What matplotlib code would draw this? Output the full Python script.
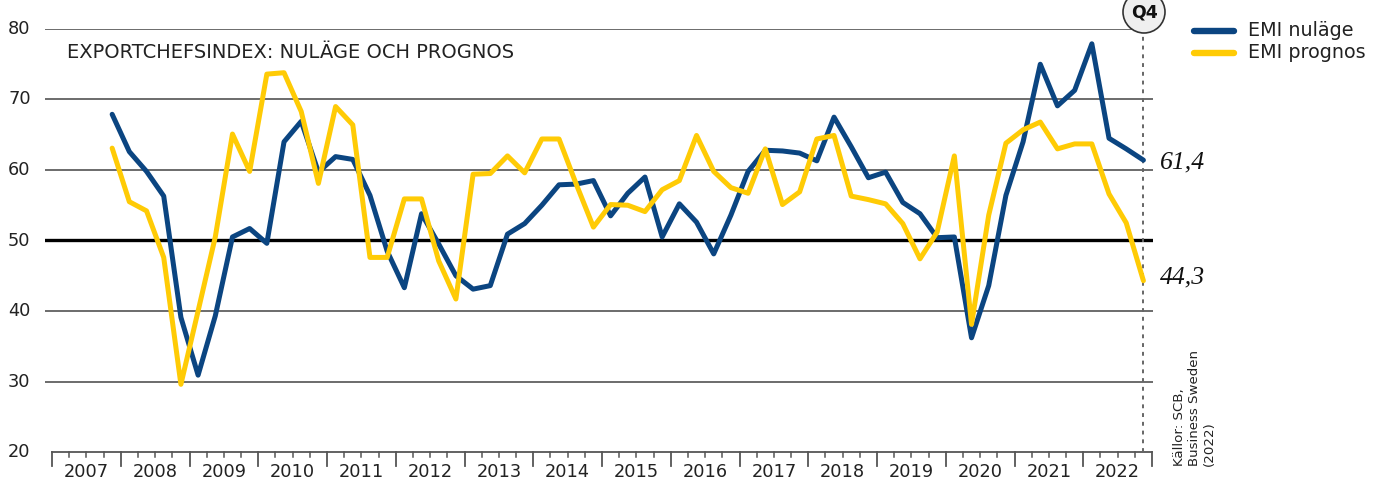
import matplotlib
matplotlib.use('Agg')
import matplotlib.pyplot as plt
import numpy as np
from matplotlib.lines import Line2D
from matplotlib.patches import Circle

# Exportchefsindex, kvartal 2007Q4 - 2022Q4
nulage = [
    67.9,
    62.6, 59.8, 56.3, 39.1,
    30.9, 39.3, 50.5, 51.7,
    49.6, 64.0, 66.9, 59.7,
    61.9, 61.5, 56.4, 48.5,
    43.3, 53.8, 49.5, 45.0,
    43.1, 43.6, 50.9, 52.4,
    55.0, 57.9, 58.0, 58.5,
    53.5, 56.7, 59.0, 50.5,
    55.2, 52.6, 48.1, 53.6,
    59.8, 62.8, 62.7, 62.4,
    61.3, 67.5, 63.3, 58.9,
    59.7, 55.4, 53.8, 50.4,
    50.5, 36.2, 43.6, 56.4,
    64.0, 75.0, 69.1, 71.3,
    77.9, 64.5, 63.0, 61.4,
]
prognos = [
    63.1,
    55.5, 54.2, 47.6, 29.6,
    40.0, 50.5, 65.1, 59.8,
    73.6, 73.8, 68.3, 58.1,
    69.0, 66.4, 47.6, 47.6,
    55.9, 55.9, 47.1, 41.7,
    59.4, 59.5, 62.0, 59.6,
    64.4, 64.4, 58.0, 51.9,
    55.1, 55.0, 54.1, 57.2,
    58.5, 64.9, 59.8, 57.5,
    56.7, 63.0, 55.1, 56.9,
    64.4, 64.9, 56.3, 55.8,
    55.2, 52.4, 47.4, 51.2,
    62.0, 38.1, 53.6, 63.8,
    65.7, 66.8, 63.0, 63.7,
    63.7, 56.6, 52.5, 44.3,
]
years = list(range(2007, 2023))
yticks = [20, 30, 40, 50, 60, 70, 80]

BLUE = '#0b4581'
YELLOW = '#ffcb05'

W, H = 1384, 486


def fx(px):
    return px / W


def fy(py):
    return 1 - py / H


fig = plt.figure(figsize=(W / 100, H / 100), dpi=100)
ax = fig.add_axes([fx(45), fy(452), fx(1153) - fx(45), fy(29) - fy(452)])
ax.set_xlim(2007 - 7 / 68.75, 2023 + 1 / 68.75)
ax.set_ylim(20, 80)
ax.axis('off')

px_per_unit = (452 - 29) / 60

# grid lines
for v in yticks[1:]:
    if v == 50:
        ax.axhline(v, color='black', lw=2.4, zorder=1)
    else:
        ax.axhline(v, color='#444444', lw=1.1, zorder=1)
    fig.text(fx(8), fy(452 - (v - 20) * px_per_unit), str(v), fontsize=12.8,
             ha='left', va='center', color='#222222')
fig.text(fx(8), fy(452), '20', fontsize=12.8, ha='left', va='center', color='#222222')

# x axis with quarterly ticks
ax.plot([2007, 2023], [20, 20], color='#555555', lw=1.3, clip_on=False, zorder=2)
for yr in range(2007, 2024):
    ax.plot([yr, yr], [20, 20 - 14 / px_per_unit], color='#555555', lw=1.3, clip_on=False)
    if yr < 2023:
        for q in (0.25, 0.5, 0.75):
            ax.plot([yr + q, yr + q], [20, 20 - 5 / px_per_unit], color='#555555',
                    lw=1.1, clip_on=False)
for yr in years:
    ax.text(yr + 0.5, 20 - 20 / px_per_unit, str(yr), fontsize=12.8, ha='center',
            va='center', color='#222222', clip_on=False)

# data
x = 2007.875 + 0.25 * np.arange(len(nulage))
ax.plot(x, nulage, color=BLUE, lw=3.6, zorder=4, solid_capstyle='round')
ax.plot(x, prognos, color=YELLOW, lw=3.6, zorder=5, solid_capstyle='round')

# Q4 marker line
ax.plot([x[-1], x[-1]], [20, 80 - 5 / px_per_unit], color='#666666', lw=1.4,
        ls=(0, (2, 2.5)), clip_on=False, zorder=3)
circ = Circle((1144, H - 12), 21, facecolor='#efefef', edgecolor='#333333',
              lw=1.2, zorder=10)
circ.set_transform(matplotlib.transforms.IdentityTransform())
fig.patches.append(circ)
fig.text(fx(1144), fy(13), 'Q4', fontsize=12.5, fontweight='bold', ha='center',
         va='center', color='#111111', zorder=11)

# end labels
fig.text(fx(1160), fy(162), '61,4', fontsize=18.5, family='Liberation Serif',
         style='italic', ha='left', va='center', color='#111111')
fig.text(fx(1160), fy(277), '44,3', fontsize=18.5, family='Liberation Serif',
         style='italic', ha='left', va='center', color='#111111')

# title
fig.text(fx(67), fy(53), 'EXPORTCHEFSINDEX: NULÄGE OCH PROGNOS', fontsize=14,
         ha='left', va='center', color='#222222')

# legend
for py, col, lab in [(31, BLUE, 'EMI nuläge'), (53, YELLOW, 'EMI prognos')]:
    fig.add_artist(Line2D([fx(1194), fx(1234)], [fy(py), fy(py)], color=col, lw=4.6,
                          solid_capstyle='round'))
    fig.text(fx(1248), fy(py), lab, fontsize=13.8, ha='left', va='center',
             color='#222222')

# source
fig.text(fx(1194), fy(466), 'Källor: SCB,\nBusiness Sweden\n(2022)', fontsize=9.6,
         rotation=90, ha='center', va='bottom', color='#222222',
         multialignment='left', linespacing=1.2)

fig.savefig('out.png', dpi=100)
